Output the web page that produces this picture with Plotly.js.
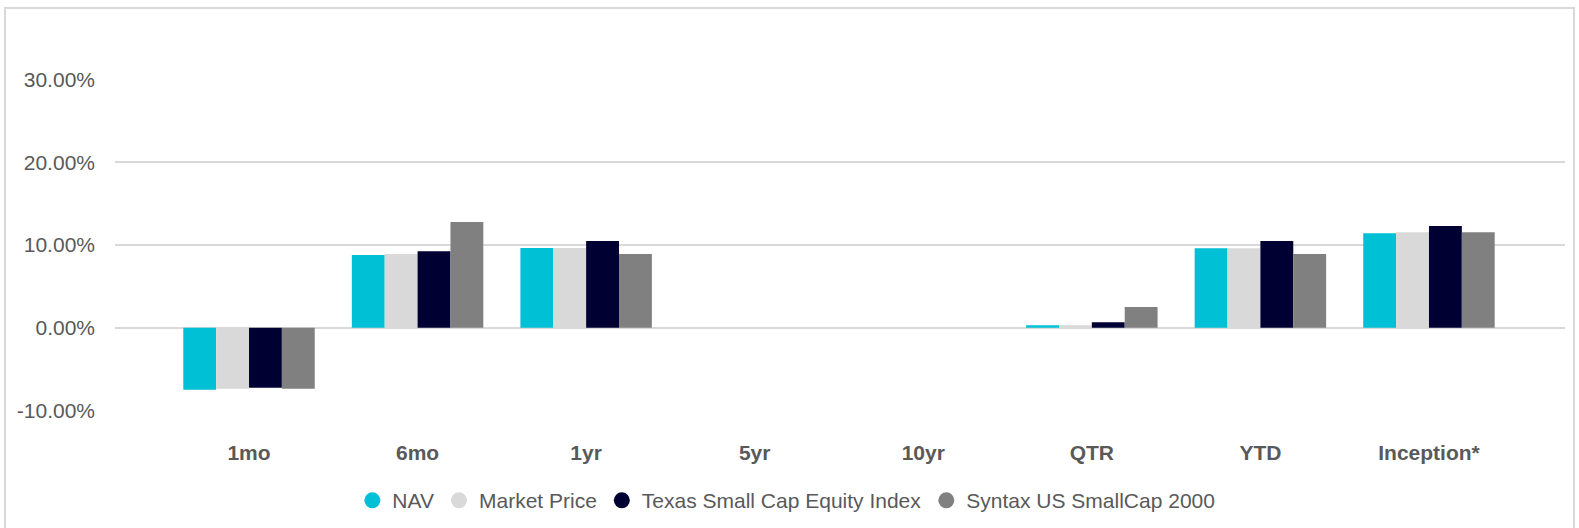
<!DOCTYPE html>
<html>
<head>
<meta charset="utf-8">
<script src="https://cdn.plot.ly/plotly-3.0.1.min.js"></script>
<style>
  html, body { margin: 0; padding: 0; background: #fff; overflow: hidden; }
  #wrap { position: relative; width: 1579px; height: 528px; }
  #chart { position: absolute; left: 0; top: 0; width: 1579px; height: 528px; }
  #frame { position: absolute; left: 4px; top: 7px; width: 1571px; height: 600px;
           box-sizing: border-box; border: 2px solid #D9D9D9; pointer-events: none; }
</style>
</head>
<body>
<div id="wrap">
  <div id="chart"></div>
  <div id="frame"></div>
</div>
<script>
// Data (percent)
const categories = ['1mo', '6mo', '1yr', '5yr', '10yr', 'QTR', 'YTD', 'Inception*'];
const seriesNames = ['NAV', 'Market Price', 'Texas Small Cap Equity Index', 'Syntax US SmallCap 2000'];
const navValues    = [-7.49,  8.78,  9.63, null, null, 0.32,  9.62, 11.43];
const marketValues = [-7.37,  8.90,  9.63, null, null, 0.30,  9.62, 11.55];
const texasValues  = [-7.25,  9.26, 10.47, null, null, 0.68, 10.47, 12.28];
const syntaxValues = [-7.37, 12.77,  8.90, null, null, 2.50,  8.90, 11.55];
const yTickValues  = [-10, 0, 10, 20, 30];
const yTickLabels  = ['-10.00%', '0.00%', '10.00%', '20.00%', '30.00%'];

const colors = ['#00C0D5', '#D9D9D9', '#000033', '#808080'];
const allValues = [navValues, marketValues, texasValues, syntaxValues];

const traces = [];
allValues.forEach((vals, i) => {
  traces.push({
    type: 'bar',
    name: seriesNames[i],
    x: categories,
    y: vals,
    marker: { color: colors[i], line: { width: 0 } },
    showlegend: false,
    hovertemplate: '%{x}: %{y:.2f}%<extra>' + seriesNames[i] + '</extra>'
  });
});
// legend entries with circular markers
allValues.forEach((vals, i) => {
  traces.push({
    type: 'scatter',
    mode: 'markers',
    name: seriesNames[i],
    x: [null],
    y: [null],
    marker: { color: colors[i], size: 20, symbol: 'circle' },
    showlegend: true,
    hoverinfo: 'skip'
  });
});

const textColor = '#595959';
const fontFam = 'Arial, "Liberation Sans", sans-serif';
const layout = {
  width: 1579,
  height: 528,
  margin: { l: 115, r: 14, t: 79, b: 117, pad: 0, autoexpand: false },
  paper_bgcolor: '#FFFFFF',
  plot_bgcolor: '#FFFFFF',
  font: { family: fontFam, color: textColor, size: 21 },
  barmode: 'group',
  bargap: 0.22,
  bargroupgap: 0,
  showlegend: true,
  legend: {
    orientation: 'h',
    x: 0.463, xanchor: 'center',
    y: -0.27, yanchor: 'middle',
    font: { size: 21, color: textColor, family: fontFam },
    bgcolor: 'rgba(0,0,0,0)',
    itemwidth: 30,
    tracegroupgap: 0
  },
  xaxis: {
    type: 'category',
    range: [-0.795, 7.807],
    showgrid: false,
    zeroline: false,
    showline: false,
    ticks: '',
    tickfont: { size: 21, color: textColor, weight: 'bold', family: fontFam },
    ticklabelstandoff: 27,
    fixedrange: true
  },
  yaxis: {
    range: [-10.05, 30.05],
    tickmode: 'array',
    tickvals: yTickValues,
    ticktext: yTickLabels,
    showgrid: true,
    gridcolor: '#D9D9D9',
    gridwidth: 2,
    zeroline: true,
    zerolinecolor: '#D9D9D9',
    zerolinewidth: 2,
    showline: false,
    ticks: '',
    tickfont: { size: 21, color: textColor, family: fontFam },
    ticklabelstandoff: 19,
    fixedrange: true
  }
};

Plotly.newPlot('chart', traces, layout, { displayModeBar: false });
</script>
</body>
</html>
